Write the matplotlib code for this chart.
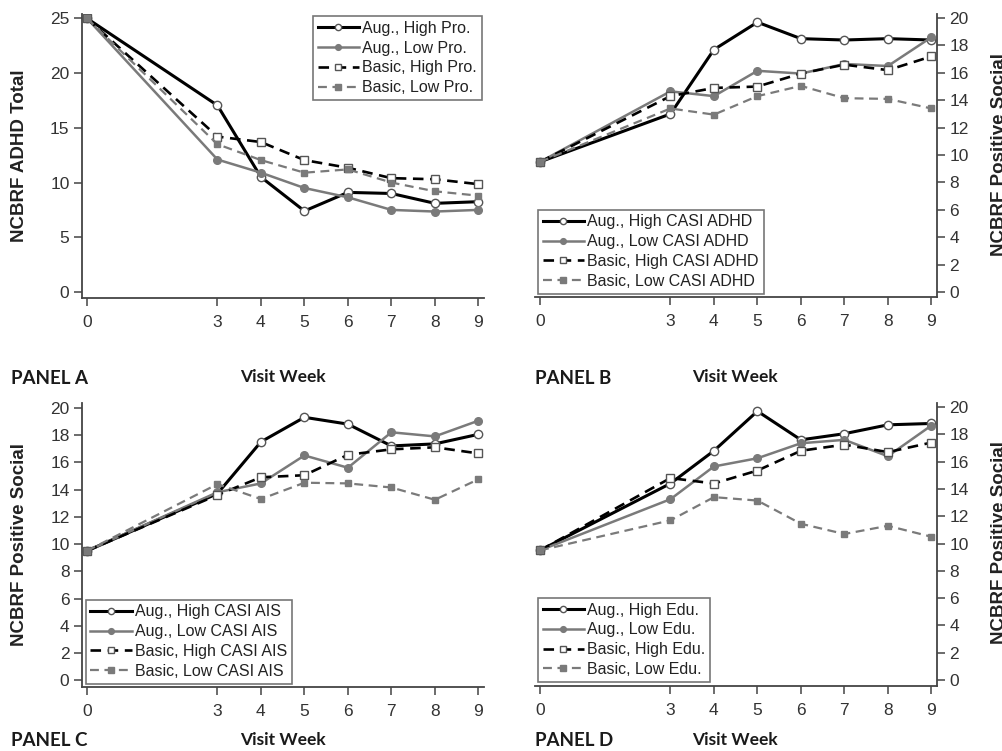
import matplotlib
matplotlib.use('Agg')
import matplotlib.pyplot as plt

plt.rcParams['font.family'] = ['Liberation Sans', 'DejaVu Sans']

# 数据：访视周
weeks = [0, 3, 4, 5, 6, 7, 8, 9]

# Panel A - NCBRF ADHD Total
a_aug_high = [25, 17.05, 10.5, 7.4, 9.1, 9.0, 8.1, 8.25]
a_aug_low = [25, 12.1, 10.9, 9.5, 8.65, 7.5, 7.35, 7.5]
a_basic_high = [25, 14.2, 13.7, 12.05, 11.35, 10.4, 10.3, 9.85]
a_basic_low = [25, 13.5, 12.05, 10.9, 11.2, 10.0, 9.2, 8.8]

# Panel B - by CASI ADHD
b_aug_high = [9.5, 13.0, 17.7, 19.7, 18.5, 18.4, 18.5, 18.4]
b_aug_low = [9.5, 14.65, 14.3, 16.15, 15.95, 16.65, 16.5, 18.6]
b_basic_high = [9.5, 14.3, 14.9, 15.0, 15.95, 16.6, 16.2, 17.2]
b_basic_low = [9.5, 13.4, 12.95, 14.3, 15.05, 14.15, 14.1, 13.4]

# Panel C - by CASI AIS
c_aug_high = [9.5, 13.7, 17.5, 19.3, 18.8, 17.2, 17.35, 18.05]
c_aug_low = [9.5, 13.8, 14.45, 16.5, 15.6, 18.2, 17.9, 19.05]
c_basic_high = [9.5, 13.6, 14.9, 15.05, 16.55, 16.95, 17.1, 16.65]
c_basic_low = [9.5, 14.4, 13.3, 14.5, 14.45, 14.15, 13.25, 14.75]

# Panel D - by education
d_aug_high = [9.5, 14.4, 16.8, 19.7, 17.6, 18.05, 18.7, 18.8]
d_aug_low = [9.5, 13.25, 15.65, 16.25, 17.35, 17.6, 16.4, 18.65]
d_basic_high = [9.5, 14.8, 14.4, 15.35, 16.8, 17.25, 16.7, 17.4]
d_basic_low = [9.5, 11.7, 13.4, 13.15, 11.45, 10.7, 11.3, 10.5]

W, H = 1002, 751
fig = plt.figure(figsize=(W / 100, H / 100), dpi=100)

AX_COL = '#444444'
GRAY = '#7a7a7a'


def px_axes(x0, y0, x1, y1):
    # pixel box (top-left origin) -> figure axes
    return fig.add_axes([x0 / W, 1 - y1 / H, (x1 - x0) / W, (y1 - y0) / H])


def draw(ax, series, suffix, ylim, yticks, side, leg_loc, leg_anchor):
    hi, lo, bhi, blo = series
    ax.plot(weeks, hi, color='black', lw=2.2, marker='o', ms=6,
            mfc='white', mec='#555555', mew=1.0,
            label='Aug., High ' + suffix)
    ax.plot(weeks, lo, color=GRAY, lw=1.8, marker='o', ms=5.5,
            mfc=GRAY, mec=GRAY, label='Aug., Low ' + suffix)
    ax.plot(weeks, bhi, color='black', lw=1.9, ls=(0, (4, 2.5)), marker='s',
            ms=6, mfc='white', mec='#555555', mew=1.0,
            label='Basic, High ' + suffix)
    ax.plot(weeks, blo, color=GRAY, lw=1.6, ls=(0, (4, 2.5)), marker='s',
            ms=5, mfc=GRAY, mec=GRAY, label='Basic, Low ' + suffix)

    ax.set_xlim(-0.115, 9.13)
    ax.set_ylim(*ylim)
    ax.set_xticks(weeks)
    ax.set_yticks(yticks)
    for s in ['top', 'left', 'right']:
        ax.spines[s].set_visible(False)
    ax.spines[side].set_visible(True)
    for s in ['bottom', side]:
        ax.spines[s].set_color(AX_COL)
        ax.spines[s].set_linewidth(1.3)
    if side == 'right':
        ax.yaxis.tick_right()
    ax.tick_params(axis='both', direction='out', length=6, width=1.1,
                   color=AX_COL, labelsize=12.5, labelcolor='#333333', pad=3)
    ax.tick_params(axis='x', pad=6)

    leg = ax.legend(loc=leg_loc, bbox_to_anchor=leg_anchor,
                    fontsize=11.5, frameon=True, fancybox=False,
                    handlelength=2.6, handletextpad=0.2, borderpad=0.3,
                    labelspacing=0.3, borderaxespad=0, markerscale=0.75)
    leg.get_frame().set_edgecolor('#555555')
    leg.get_frame().set_linewidth(1.2)
    for t in leg.get_texts():
        t.set_color('#222222')


axA = px_axes(82, 14, 484, 298)
draw(axA, (a_aug_high, a_aug_low, a_basic_high, a_basic_low), 'Pro.',
     (-0.55, 25.4), [0, 5, 10, 15, 20, 25], 'left', 'upper right', (0.995, 0.993))

axB = px_axes(535, 14, 937, 297)
draw(axB, (b_aug_high, b_aug_low, b_basic_high, b_basic_low), 'CASI ADHD',
     (-0.37, 20.3), list(range(0, 21, 2)), 'right', 'lower left', (0.007, 0.012))

axC = px_axes(82, 403, 484, 687)
draw(axC, (c_aug_high, c_aug_low, c_basic_high, c_basic_low), 'CASI AIS',
     (-0.49, 20.35), list(range(0, 21, 2)), 'left', 'lower left', (0.009, 0.012))

axD = px_axes(535, 403, 937, 686)
draw(axD, (d_aug_high, d_aug_low, d_basic_high, d_basic_low), 'Edu.',
     (-0.44, 20.3), list(range(0, 21, 2)), 'right', 'lower left', (0.007, 0.015))

# 轴标题
lab = dict(fontsize=13.5, fontweight='bold', color='#222222')
fig.text(20 / W, 1 - 156 / H, 'NCBRF ADHD Total', rotation=90,
         ha='center', va='center', **lab)
fig.text(20 / W, 1 - 545 / H, 'NCBRF Positive Social', rotation=90,
         ha='center', va='center', **lab)
fig.text(999 / W, 1 - 155 / H, 'NCBRF Positive Social', rotation=90,
         ha='center', va='center', **lab)
fig.text(999 / W, 1 - 543 / H, 'NCBRF Positive Social', rotation=90,
         ha='center', va='center', **lab)

pan = dict(fontsize=13.5, fontweight='bold', color='#1a1a1a', family='Lato')
fig.text(11 / W, 1 - 378 / H, 'PANEL A', ha='left', va='center', **pan)
fig.text(535 / W, 1 - 378 / H, 'PANEL B', ha='left', va='center', **pan)
fig.text(11 / W, 1 - 740 / H, 'PANEL C', ha='left', va='center', **pan)
fig.text(535 / W, 1 - 740 / H, 'PANEL D', ha='left', va='center', **pan)

vw = dict(fontsize=12.5, fontweight='bold', color='#1a1a1a', family='Lato')
fig.text(283 / W, 1 - 377 / H, 'Visit Week', ha='center', va='center', **vw)
fig.text(735 / W, 1 - 377 / H, 'Visit Week', ha='center', va='center', **vw)
fig.text(283 / W, 1 - 740 / H, 'Visit Week', ha='center', va='center', **vw)
fig.text(735 / W, 1 - 740 / H, 'Visit Week', ha='center', va='center', **vw)

fig.savefig('out.png', dpi=100)
